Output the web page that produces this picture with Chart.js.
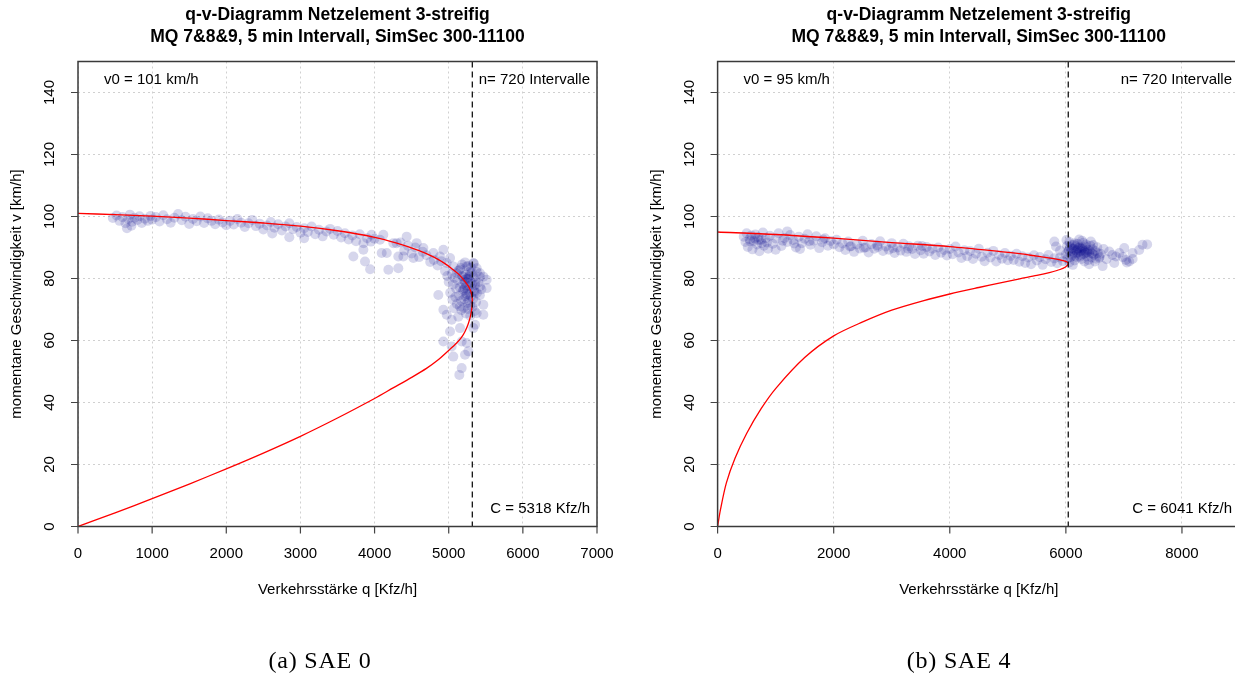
<!DOCTYPE html>
<html><head><meta charset="utf-8">
<script src="https://cdn.jsdelivr.net/npm/chart.js@4"></script>
<style>
html,body{margin:0;padding:0;background:#fff;overflow:hidden;width:1235px;height:678px;}
#c1{position:absolute;left:0;top:0;}
#c2{position:absolute;left:640px;top:0;}
.cap{position:absolute;top:646px;font-family:"Liberation Serif","DejaVu Serif",serif;font-size:24px;letter-spacing:0.8px;color:#000;transform:translateX(-50%);white-space:nowrap;line-height:28px;}
</style></head>
<body>
<canvas id="c1" width="620" height="678"></canvas>
<canvas id="c2" width="605" height="678"></canvas>
<div class="cap" style="left:320px">(a) SAE 0</div>
<div class="cap" style="left:959px">(b) SAE 4</div>
<script>
// ---------- tick labels ----------
const yTicks = [0,20,40,60,80,100,120,140];
const leftXTicks = [0,1000,2000,3000,4000,5000,6000,7000];
const rightXTicks = [0,2000,4000,6000,8000];

// ---------- texts ----------
const titleLine1 = "q-v-Diagramm Netzelement 3-streifig";
const titleLine2 = "MQ 7&8&9, 5 min Intervall, SimSec 300-11100";
const xTitle = "Verkehrsstärke q [Kfz/h]";
const yTitle = "momentane Geschwindigkeit v [km/h]";
const leftV0 = 101, rightV0 = 95;
const leftC = 5318, rightC = 6041;
const nIntervals = 720;

// ---------- fitted q-v curves (q, v) ----------
const leftCurve = [[0,101],[500,100.6],[1000,100.1],[1500,99.5],[2000,98.7],[2500,97.9],[3000,96.9],[3500,95.4],[4000,93.3],[4300,91.4],[4600,89.0],[4800,86.9],[4950,84.8],[5060,82.8],[5150,81.0],[5220,79.0],[5270,77.3],[5300,75.7],[5314,74.2],[5318,72.5],[5313,70.6],[5297,68.3],[5265,65.5],[5220,62.9],[5170,60.9],[5107,59.2],[5000,56.8],[4850,53.6],[4700,51.0],[4500,48.1],[4250,44.7],[4000,41.3],[3500,35.0],[3000,29.1],[2500,23.7],[2000,18.6],[1500,13.7],[1000,9.0],[500,4.4],[0,0]];
const rightCurve = [[0,95],[1000,94.2],[2000,93.0],[3000,91.6],[4000,90.3],[4872,88.7],[5204,88.0],[5500,87.2],[5732,86.6],[5900,86.0],[6000,85.5],[6041,84.8],[6000,83.8],[5900,82.9],[5732,82.0],[5500,81.0],[5204,79.9],[4872,78.6],[4500,77.1],[4000,75.0],[3553,72.9],[3000,69.8],[2500,66.0],[2000,61.5],[1500,54.5],[1000,44.5],[750,38.0],[500,30.0],[300,22.0],[150,14.0],[50,5.5],[0,0]];

const leftPoints = [
[470,99.5],[520,100.3],[560,98.6],[600,99.8],[640,97.8],[680,99.2],[700,100.6],[730,98.3],[760,99.6],[800,98.9],[830,100.1],[860,97.9],[900,99.3],[940,98.6],[980,100.2],[1000,99.0],[660,96.2],[720,97.0],
[1050,99.8],[1100,98.4],[1150,100.4],[1200,99.1],[1250,98.0],[1300,99.6],[1350,100.8],[1400,98.8],[1450,99.9],[1500,97.6],[1550,99.2],[1600,98.5],[1650,100.0],[1700,97.9],[1750,99.4],[1800,98.6],[1850,97.5],[1900,99.0],[1950,98.1],[2000,97.2],
[2050,98.6],[2100,97.4],[2150,99.2],[2200,98.0],[2250,96.6],[2300,97.8],[2350,98.9],[2400,96.9],[2450,97.7],[2500,95.8],[2550,97.1],[2600,98.2],[2650,96.4],[2700,97.5],[2750,95.5],[2800,96.8],[2850,97.8],[2900,95.9],[2950,96.6],[3000,94.8],
[3050,96.2],[3100,95.0],[3150,96.8],[3200,94.3],[3250,95.7],[3300,93.6],[3350,95.2],[3400,96.0],[3450,94.1],[3500,95.3],[3550,93.2],[3600,94.6],[3650,92.6],[3700,93.9],[3750,92.0],[3800,94.3],[3850,91.4],[3900,93.0],[3950,91.9],[4000,92.8],[2620,94.5],[2850,93.3],[3050,93.0],
[3714,87.1],[3849,89.3],[3871,85.5],[3961,94.1],[4073,92.5],[4096,88.2],[4186,82.8],[4253,91.4],[4320,87.1],[3940,83.0],
[4118,94.1],[4164,88.2],[4298,91.4],[4388,87.1],[4320,83.3],[4433,93.5],[4568,91.4],[4658,89.8],[4523,86.6],[4793,88.2],[4883,87.1],[4928,89.3],[4973,85.0],[5018,86.6],[5062,83.9],[5107,81.7],[5152,82.8],[5197,80.6],[5242,83.9],[5287,82.2],[5332,85.0],[5377,83.3],[5422,81.7],[5467,80.6],[5512,76.9],[5467,71.5],[5355,65.1],[5377,68.8],[4860,74.7],[4928,69.9],[4973,68.3],[5040,66.7],[5018,62.9],[5130,67.7],[5152,64.0],[4928,59.7],[5040,58.1],[5062,54.8],[5175,59.7],[5242,59.2],[5220,55.4],[5175,51.1],[5143,48.9],[5265,56.5],[5332,64.0],[5467,68.3],[5422,77.4],[5512,79.6],
[5120,79.5],[5150,77.2],[5180,80.8],[5200,76.4],[5220,78.9],[5240,75.1],[5260,79.8],[5280,77.5],[5300,74.2],[5320,78.3],[5340,76.0],[5360,79.0],[5140,74.5],[5170,72.8],[5190,75.9],[5210,73.4],[5230,81.2],[5250,72.1],[5270,80.5],[5290,71.3],[5310,81.9],[5330,73.5],[5350,75.6],[5370,72.4],[5100,76.8],[5080,80.2],[5060,78.1],[5040,81.6],[5090,74.0],[5110,71.8],[5130,82.5],[5160,83.4],[5190,78.2],[5215,76.9],[5235,77.7],[5255,76.2],[5275,74.8],[5295,78.9],[5315,76.6],[5335,80.4],[5355,77.9],[5380,75.3],[5400,78.7],[5420,74.6],[5440,76.5],[5205,79.6],[5225,74.3],[5245,80.0],[5265,73.0],[5285,81.0],[5170,69.8],[5200,70.5],[5230,68.7],[5260,70.2],[5290,68.0],[5150,71.0],[5320,70.8],[5350,69.5],[5180,84.5],[5220,85.2],[5260,84.0],[5300,83.5],[5340,84.8],[5380,82.1],[5420,80.5],[5000,78.9],[5020,75.4],[4980,80.8],[5050,73.2],[5070,70.4],
[4800,86.0],[4850,84.2],[4900,85.6],[4950,82.4],[4700,87.5],[4750,85.3],[4650,88.6],[4600,86.9],[4550,90.0],[4500,88.1],[4450,90.6],[4400,89.0],[4350,91.6]
];
const rightPoints = [
[450,93.5],[480,91.8],[500,94.6],[520,90.2],[550,92.7],[580,93.9],[600,89.4],[620,92.1],[650,94.2],[680,91.0],[700,93.3],[720,88.8],[750,92.5],[780,94.8],[800,90.6],[830,93.0],[850,91.6],[870,89.6],[560,92.0],[640,92.9],[710,92.4],[760,91.4],
[900,93.8],[950,91.2],[1000,92.9],[1050,94.6],[1100,90.5],[1150,93.1],[1200,91.8],[1250,94.0],[1300,92.4],[1350,90.0],[1400,93.5],[1450,91.4],[1500,92.8],[1550,94.3],[1600,90.9],[1650,92.2],[1700,93.6],[1750,89.8],[1800,91.7],[1850,93.0],[1900,90.6],[1950,92.1],[2000,91.0],[1120,92.2],[1320,91.3],[1580,92.0],[1820,92.6],[1000,89.3],[1200,95.2],[1420,89.5],
[2050,92.5],[2100,90.1],[2150,91.3],[2200,89.2],[2250,91.9],[2300,90.4],[2350,88.6],[2400,91.0],[2450,89.7],[2500,92.2],[2550,90.0],[2600,88.4],[2650,91.1],[2700,89.6],[2750,90.7],[2800,92.0],[2850,88.9],[2900,90.3],[2950,89.3],[3000,91.4],[3050,88.2],[3100,90.0],[3150,89.0],[3200,91.2],[3250,88.6],[3300,90.4],[3350,89.5],[3400,87.9],[3450,90.6],[3500,89.1],[3550,88.0],[3600,90.2],[3650,88.7],[3700,89.6],[3750,87.6],[3800,90.0],[3850,88.3],[3900,89.2],[3950,87.4],[2280,90.3],[2520,89.9],[2760,90.2],[3020,89.8],[3280,89.6],[3520,90.5],
[4000,89.5],[4050,87.8],[4100,90.3],[4150,88.4],[4200,86.6],[4250,89.1],[4300,87.2],[4350,88.9],[4400,86.3],[4450,88.0],[4500,89.6],[4550,87.0],[4600,85.6],[4650,88.3],[4700,86.8],[4750,88.9],[4800,85.5],[4850,87.6],[4900,86.4],[4950,88.2],[5000,85.9],[5050,87.3],[5100,86.0],[5150,88.0],[5200,85.4],
[5250,87.2],[5300,85.0],[5350,86.8],[5400,84.6],[5450,87.5],[5500,85.8],[5550,86.9],[5600,84.4],[5650,86.2],[5700,87.6],[5750,85.3],[5800,86.5],[5850,84.9],[5900,86.8],[5950,85.6],[5802,91.9],[5830,90.3],[5900,89.0],
[6000,87.8],[6020,90.5],[6040,88.6],[6060,91.8],[6080,86.9],[6100,89.7],[6120,88.1],[6140,90.9],[6160,87.3],[6180,89.0],[6200,91.2],[6220,88.4],[6240,90.1],[6260,87.6],[6280,89.5],[6300,91.5],[6320,88.7],[6340,90.3],[6360,87.1],[6380,89.2],[6400,88.0],[6420,90.6],[6440,86.8],[6460,89.4],[6480,87.7],[6500,88.9],[6520,86.4],[6550,88.2],[6580,87.0],[6050,89.2],[6090,88.8],[6130,89.6],[6170,90.4],[6210,89.8],[6250,88.9],[6290,90.0],[6330,89.1],[6370,88.5],[6410,89.0],[6450,88.1],[6070,90.2],[6110,87.4],[6150,91.4],[6190,88.2],[6230,92.6],[6270,86.3],[6310,87.9],[6350,91.0],[6390,86.0],[6430,91.9],[6010,92.4],[6030,86.5],[6190,86.9],[6240,87.0],[6280,92.2],[6150,85.8],[6320,85.5],[6470,90.8],[6540,90.1],[6200,89.4],[6260,89.7],[6100,90.7],[6340,88.3],[6060,85.2],[6400,84.6],[6120,84.4],[6500,85.5],
[6633,84.0],[6576,86.7],[6748,88.7],[6834,85.0],[6863,87.1],[6920,88.2],[7006,89.8],[7034,86.0],[7092,85.5],[7149,88.2],[7264,89.2],[7321,90.9],[7400,91.0],[6700,86.2],[6650,89.5],[6800,87.6],[6980,86.9],[7150,86.3],[7050,85.2],[6600,88.0]
];

const toXY = arr => arr.map(p => ({x:p[0], y:p[1]}));
const FONT = '"Liberation Sans", Arial, sans-serif';

const rDeco = {
  id:'rdeco',
  afterDraw(chart, args, o){
    const {ctx, chartArea:a, scales:{x,y}} = chart;
    ctx.save();
    // capacity line
    const cx = x.getPixelForValue(o.cap);
    ctx.strokeStyle='#000'; ctx.lineWidth=1.2; ctx.setLineDash([6,4]);
    ctx.beginPath(); ctx.moveTo(cx,a.top); ctx.lineTo(cx,a.bottom); ctx.stroke();
    ctx.setLineDash([]);
    // box
    ctx.strokeStyle='#3a3a3a'; ctx.lineWidth=1.5;
    ctx.strokeRect(a.left,a.top,a.right-a.left,a.bottom-a.top);
    // tick marks
    ctx.strokeStyle='#444'; ctx.lineWidth=1.2;
    ctx.beginPath();
    o.xTicks.forEach(v=>{const px=x.getPixelForValue(v); ctx.moveTo(px,a.bottom); ctx.lineTo(px,a.bottom+7);});
    o.yTicks.forEach(v=>{const py=y.getPixelForValue(v); ctx.moveTo(a.left,py); ctx.lineTo(a.left-7,py);});
    ctx.stroke();
    // tick labels
    ctx.fillStyle='#000'; ctx.font='15px '+FONT; ctx.textAlign='center'; ctx.textBaseline='middle';
    o.xTicks.forEach(v=> ctx.fillText(String(v), x.getPixelForValue(v), a.bottom+27));
    o.yTicks.forEach(v=>{ctx.save(); ctx.translate(a.left-28, y.getPixelForValue(v)); ctx.rotate(-Math.PI/2); ctx.fillText(String(v),0,0); ctx.restore();});
    // axis titles
    ctx.font='15px '+FONT;
    ctx.fillText(xTitle, (a.left+a.right)/2, 590);
    ctx.save(); ctx.translate(17,(a.top+a.bottom)/2); ctx.rotate(-Math.PI/2); ctx.fillText(yTitle,0,0); ctx.restore();
    // main title
    ctx.font='bold 17.5px '+FONT;
    ctx.fillText(titleLine1, (a.left+a.right)/2, 15);
    ctx.fillText(titleLine2, (a.left+a.right)/2, 37);
    // annotations
    ctx.font='15px '+FONT;
    ctx.textAlign='left';
    ctx.fillText('v0 = '+o.v0+' km/h', a.left+26, a.top+18);
    ctx.textAlign='right';
    ctx.fillText('n= '+nIntervals+' Intervalle', a.right-o.inset, a.top+18);
    ctx.fillText('C = '+o.cap+' Kfz/h', a.right-o.inset, a.bottom-18);
    ctx.restore();
  }
};

function makeChart(id, curve, pts, xMax, xTicks, cap, v0, padRight, yWidth, inset){
  return new Chart(document.getElementById(id), {
    type:'scatter',
    data:{datasets:[
      {data:toXY(curve), showLine:true, borderColor:'#ff0000', borderWidth:1.3, pointRadius:0, tension:0.3, fill:false},
      {data:toXY(pts), pointRadius:5, pointBackgroundColor:'rgba(0,0,139,0.16)', pointBorderWidth:0, pointBorderColor:'rgba(0,0,0,0)'}
    ]},
    options:{
      responsive:false, animation:false, events:[],
      layout:{padding:{left:0, top:61.5, right:padRight, bottom:0}},
      plugins:{legend:{display:false}, tooltip:{enabled:false},
        rdeco:{cap:cap, v0:v0, xTicks:xTicks, yTicks:yTicks, inset:inset}},
      scales:{
        x:{type:'linear', min:0, max:xMax,
           afterBuildTicks: s => { s.ticks = xTicks.map(v=>({value:v})); },
           afterFit: s => { s.height = 151.5; },
           ticks:{display:false},
           grid:{color:'#d0d0d0', lineWidth:1, drawTicks:false},
           border:{display:false, dash:[2,3]}},
        y:{type:'linear', min:0, max:150,
           afterBuildTicks: s => { s.ticks = yTicks.map(v=>({value:v})); },
           afterFit: s => { s.width = yWidth; },
           ticks:{display:false},
           grid:{color:'#d0d0d0', lineWidth:1, drawTicks:false},
           border:{display:false, dash:[2,3]}}
      }
    },
    plugins:[rDeco]
  });
}

makeChart('c1', leftCurve, leftPoints, 7000, leftXTicks, leftC, leftV0, 23, 78, 7);
makeChart('c2', rightCurve, rightPoints, 9000, rightXTicks, rightC, rightV0, 4, 77.6, 8);
</script>
</body></html>
